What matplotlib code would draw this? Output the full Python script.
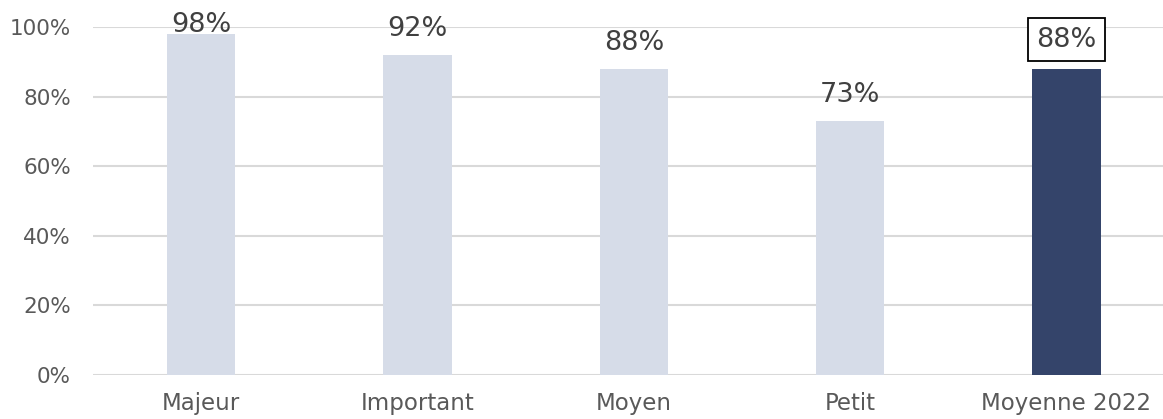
import matplotlib
matplotlib.use('Agg')
import matplotlib.pyplot as plt

categories = ['Majeur', 'Important', 'Moyen', 'Petit', 'Moyenne 2022']
values = [98, 92, 88, 73, 88]
yticks = [0, 20, 40, 60, 80, 100]

plt.rcParams['font.family'] = ['DejaVu Sans']

fig = plt.figure(figsize=(11.63, 4.19), dpi=100)
# the axes run a bit past the right edge, as in the original
ax = fig.add_axes([0.080, 0.105, 0.930, 0.8305])

colors = ['#d6dce8'] * 4 + ['#34446a']
x = list(range(len(categories)))
ax.bar(x, values, width=0.315, color=colors, zorder=2)

ax.set_xlim(-0.5, len(categories) - 0.5)
ax.set_ylim(0, 100)
ax.set_yticks(yticks)
ax.set_yticklabels(['%d%%' % t for t in yticks], fontsize=15.5, color='#595959')
ax.set_xticks(x)
ax.set_xticklabels(categories, fontsize=16.5, color='#595959')
ax.tick_params(axis='both', length=0)
ax.tick_params(axis='y', pad=16)
ax.tick_params(axis='x', pad=12)

ax.grid(True, axis='y', color='#d9d9d9', linewidth=1.5, zorder=0)
for s in ax.spines.values():
    s.set_visible(False)

for i, v in enumerate(values):
    if i == len(values) - 1:
        ax.text(i, v + 6.4, '%d%%' % v, ha='center', va='baseline', fontsize=19.5,
                color='#404040', clip_on=False,
                bbox=dict(boxstyle='square,pad=0.32', fc='white', ec='black', lw=1.3))
    elif v > 95:
        # top label squeezed down onto the bar
        ax.text(i, v + 0.6, '%d%%' % v, ha='center', va='baseline', fontsize=19.5,
                color='#404040', clip_on=False)
    else:
        ax.text(i, v + 5.5, '%d%%' % v, ha='center', va='baseline', fontsize=19.5,
                color='#404040', clip_on=False)

fig.savefig('out.png', dpi=100)
